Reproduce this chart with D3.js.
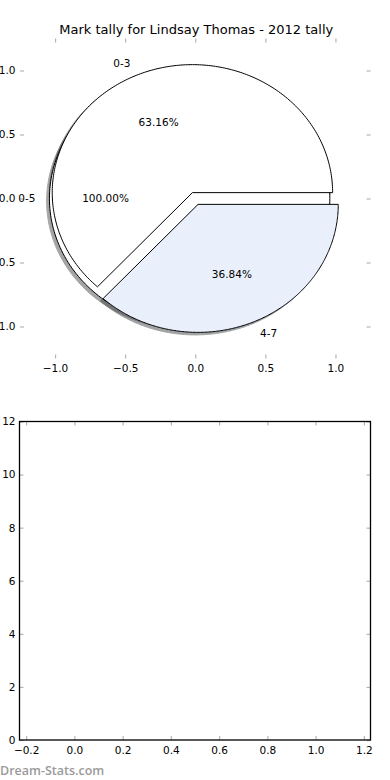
<!DOCTYPE html>
<html>
<head>
<meta charset="utf-8">
<script src="https://cdn.jsdelivr.net/npm/d3@7"></script>
<style>
  html, body { margin: 0; padding: 0; background: #fff; }
  svg { display: block; }
  text { font-family: "DejaVu Sans", sans-serif; fill: #000; }
</style>
</head>
<body>
<div id="chart"></div>
<script>
// ---- data ----
const chartTitle = "Mark tally for Lindsay Thomas - 2012 tally";
const outerCategories = ["0-5"];
const outerValues = [19];
const outerColors = ["#ffffff"];
const outerExplode = [0.04];
const innerCategories = ["0-3", "4-7"];
const innerValues = [12, 7];
const innerColors = ["#ffffff", "#e9f0fc"];
const innerExplode = [0.05, 0.05];
const pieXTicks = [-1.0, -0.5, 0.0, 0.5, 1.0];
const pieYTicks = [-1.0, -0.5, 0.0, 0.5, 1.0];
const barXTicks = [-0.2, 0.0, 0.2, 0.4, 0.6, 0.8, 1.0, 1.2];
const barYTicks = [0, 2, 4, 6, 8, 10, 12];
const watermark = "Dream-Stats.com";

// ---- setup ----
const W = 390, H = 780;
const svg = d3.select("#chart").append("svg").attr("width", W).attr("height", H);
const tickColor = "#b5b5b5";
const labelSize = "10.5px";

// ---- top: pie axes ----
const x1 = d3.scaleLinear().domain([-1.25, 1.25]).range([20, 370.5]);
const y1 = d3.scaleLinear().domain([-1.25, 1.25]).range([358.5, 38.5]);

svg.append("text")
  .attr("x", (x1.range()[0] + x1.range()[1]) / 2 + 1)
  .attr("y", 34)
  .attr("text-anchor", "middle")
  .style("font-size", "13px")
  .text(chartTitle);

function styleAxis(g, showLabels) {
  g.select(".domain").remove();
  g.selectAll(".tick line").attr("stroke", tickColor).attr("stroke-width", 1.2);
  g.selectAll(".tick text")
    .style("font-size", labelSize)
    .style("font-family", "DejaVu Sans, sans-serif")
    .attr("fill", "#000");
  if (!showLabels) g.selectAll(".tick text").remove();
}

const fmt1 = d3.format(".1f");
svg.append("g").attr("transform", `translate(0,${y1.range()[0]})`)
  .call(d3.axisBottom(x1).tickValues(pieXTicks).tickFormat(fmt1).tickSize(-4).tickPadding(6))
  .call(g => styleAxis(g, true));
svg.append("g").attr("transform", `translate(0,${y1.range()[1]})`)
  .call(d3.axisTop(x1).tickValues(pieXTicks).tickSize(-4))
  .call(g => styleAxis(g, false));
svg.append("g").attr("transform", `translate(${x1.range()[0]},0)`)
  .call(d3.axisLeft(y1).tickValues(pieYTicks).tickFormat(fmt1).tickSize(-4).tickPadding(4.5))
  .call(g => styleAxis(g, true));
svg.append("g").attr("transform", `translate(${x1.range()[1]},0)`)
  .call(d3.axisRight(y1).tickValues(pieYTicks).tickSize(-4))
  .call(g => styleAxis(g, false));

// pie geometry
const pieGen = d3.pie().sort(null).value(d => d);
function buildWedges(values, cats, colors, explode) {
  const total = d3.sum(values);
  return pieGen(values).map((a, i) => {
    const mid = (a.startAngle + a.endAngle) / 2;
    const e = explode[i];
    return {
      cat: cats[i], color: colors[i],
      start: a.startAngle, end: a.endAngle, mid,
      cx: e * Math.cos(mid), cy: e * Math.sin(mid),
      full: Math.abs(a.endAngle - a.startAngle - 2 * Math.PI) < 1e-9,
      pct: (values[i] / total * 100).toFixed(2) + "%"
    };
  });
}
function wedgePoints(w, dx, dy) {
  const pts = [];
  if (!w.full) pts.push([w.cx + dx, w.cy + dy]);
  const n = 240;
  for (let k = 0; k <= n; k++) {
    const t = w.start + (w.end - w.start) * k / n;
    pts.push([w.cx + dx + Math.cos(t), w.cy + dy + Math.sin(t)]);
  }
  return pts;
}
const lineGen = d3.line().x(d => x1(d[0])).y(d => y1(d[1]));
const pathOf = (w, dx, dy) => lineGen(wedgePoints(w, dx, dy)) + "Z";

const outer = buildWedges(outerValues, outerCategories, outerColors, outerExplode);
const inner = buildWedges(innerValues, innerCategories, innerColors, innerExplode);
const all = outer.concat(inner);

function shadowColor(c) {
  const r = d3.rgb(c);
  return d3.rgb(r.r * 0.3, r.g * 0.3, r.b * 0.3).toString();
}

const pieG = svg.append("g");
// shadows first (lower z-order)
pieG.selectAll("path.shadow").data(all).join("path")
  .attr("class", "shadow")
  .attr("d", w => pathOf(w, -0.02, -0.02))
  .attr("fill", w => shadowColor(w.color))
  .attr("stroke", w => shadowColor(w.color))
  .attr("stroke-width", 1)
  .attr("opacity", 0.5);
// wedges
pieG.selectAll("path.wedge").data(all).join("path")
  .attr("class", "wedge")
  .attr("d", w => pathOf(w, 0, 0))
  .attr("fill", w => w.color)
  .attr("stroke", "#000")
  .attr("stroke-width", 1)
  .attr("stroke-linejoin", "round");

// labels
const labG = svg.append("g");
all.forEach(w => {
  const lx = w.cx + 1.1 * Math.cos(w.mid), ly = w.cy + 1.1 * Math.sin(w.mid);
  labG.append("text")
    .attr("x", x1(lx)).attr("y", y1(ly)).attr("dy", "0.35em")
    .attr("text-anchor", lx < 0 ? "end" : "start")
    .style("font-size", labelSize)
    .text(w.cat);
  const px = w.cx + 0.6 * Math.cos(w.mid), py = w.cy + 0.6 * Math.sin(w.mid);
  labG.append("text")
    .attr("x", x1(px)).attr("y", y1(py)).attr("dy", "0.35em")
    .attr("text-anchor", "middle")
    .style("font-size", labelSize)
    .text(w.pct);
});

// ---- bottom: empty axes ----
const x2 = d3.scaleLinear().domain([-0.2275, 1.2275]).range([19.5, 370.5]);
const y2 = d3.scaleLinear().domain([0, 12]).range([740, 421.5]);
const fmtI = d3.format("d");

svg.append("g").attr("transform", `translate(0,${y2.range()[0]})`)
  .call(d3.axisBottom(x2).tickValues(barXTicks).tickFormat(fmt1).tickSize(-4).tickPadding(7))
  .call(g => styleAxis(g, true));
svg.append("g").attr("transform", `translate(0,${y2.range()[1]})`)
  .call(d3.axisTop(x2).tickValues(barXTicks).tickSize(-4))
  .call(g => styleAxis(g, false));
svg.append("g").attr("transform", `translate(${x2.range()[0]},0)`)
  .call(d3.axisLeft(y2).tickValues(barYTicks).tickFormat(fmtI).tickSize(-4).tickPadding(4))
  .call(g => styleAxis(g, true));
svg.append("g").attr("transform", `translate(${x2.range()[1]},0)`)
  .call(d3.axisRight(y2).tickValues(barYTicks).tickSize(-4))
  .call(g => styleAxis(g, false));

svg.append("rect")
  .attr("x", x2.range()[0]).attr("y", y2.range()[1])
  .attr("width", x2.range()[1] - x2.range()[0])
  .attr("height", y2.range()[0] - y2.range()[1])
  .attr("fill", "none").attr("stroke", "#000").attr("stroke-width", 1.3);

// watermark
svg.append("text")
  .attr("x", 0).attr("y", 775)
  .style("font-family", "'Open Sans', sans-serif")
  .style("font-weight", "600")
  .style("font-size", "12.5px")
  .style("fill", "#9a9a9a")
  .text(watermark);
</script>
</body>
</html>
